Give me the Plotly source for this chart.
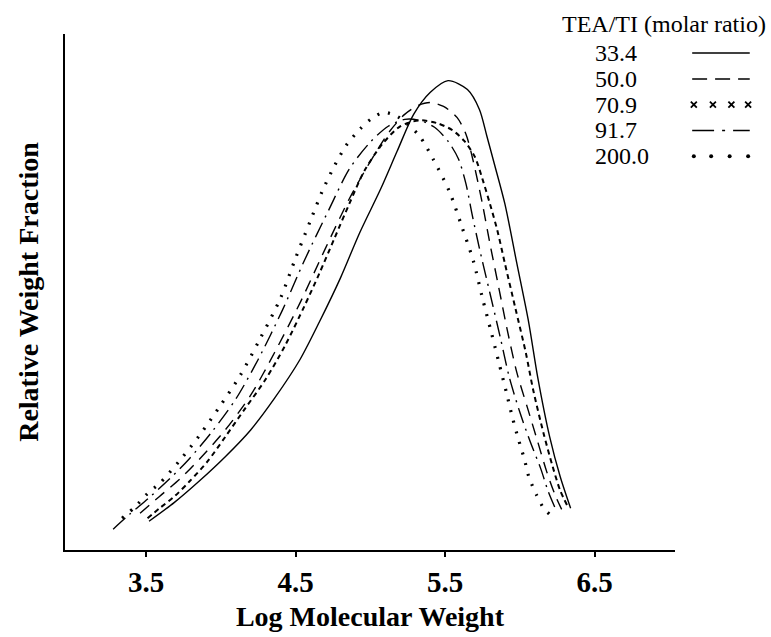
import plotly.graph_objects as go

FONT = "Liberation Serif"

# Legend labels (TEA/TI molar ratio)
ratios = ["33.4", "50.0", "70.9", "91.7", "200.0"]

# Log molecular weight (x) and relative weight fraction (y, arbitrary units)
x_334 = [3.52, 3.69, 3.86, 4.03, 4.20, 4.36, 4.53, 4.66, 4.80, 4.93, 5.07, 5.18, 5.29,
         5.40, 5.52, 5.65, 5.73, 5.78, 5.83, 5.90, 5.98, 6.06, 6.12, 6.20, 6.27, 6.34]
y_334 = [29, 48, 70, 94, 121, 153, 192, 230, 274, 320, 364, 402, 439,
         461, 473, 464, 444, 417, 389, 349, 289, 229, 174, 114, 74, 42]

x_500 = [3.46, 3.59, 3.73, 3.86, 4.03, 4.20, 4.36, 4.53, 4.70, 4.86, 5.01, 5.13, 5.23, 5.32,
         5.40, 5.49, 5.58, 5.64, 5.69, 5.75, 5.80, 5.86, 5.92, 5.98, 6.05, 6.12, 6.18, 6.24, 6.28]
y_500 = [37, 54, 72, 92, 121, 156, 199, 249, 304, 354, 394, 422, 439, 448,
         451, 447, 436, 419, 391, 349, 309, 264, 219, 179, 144, 109, 79, 54, 41]

x_709 = [3.51, 3.59, 3.69, 3.79, 3.91, 4.03, 4.16, 4.30, 4.43, 4.56, 4.66, 4.76, 4.86, 4.96,
         5.08, 5.20, 5.33, 5.45, 5.55, 5.63, 5.70, 5.75, 5.80, 5.85, 5.90, 5.97, 6.04, 6.09,
         6.16, 6.22, 6.27, 6.32]
y_709 = [32, 42, 54, 69, 89, 114, 142, 172, 206, 246, 279, 314, 349, 382,
         409, 427, 433, 430, 423, 412, 396, 374, 349, 322, 289, 244, 199, 161,
         117, 84, 60, 44]

x_917 = [3.28, 3.39, 3.53, 3.66, 3.79, 3.94, 4.10, 4.25, 4.41, 4.56, 4.72, 4.86, 5.00, 5.12,
         5.23, 5.33, 5.43, 5.52, 5.59, 5.64, 5.68, 5.73, 5.80, 5.87, 5.93, 6.00, 6.07, 6.14,
         6.19, 6.24]
y_917 = [21, 36, 54, 72, 92, 119, 152, 192, 241, 292, 342, 384, 411, 427,
         434, 433, 426, 412, 394, 369, 339, 304, 259, 214, 174, 139, 109, 82,
         59, 41]

x_2000 = [3.34, 3.43, 3.51, 3.59, 3.73, 3.86, 3.99, 4.13, 4.26, 4.40, 4.50, 4.60, 4.68, 4.76,
          4.84, 4.93, 5.01, 5.09, 5.18, 5.25, 5.33, 5.42, 5.53, 5.61, 5.69, 5.75, 5.81,
          5.86, 5.91, 5.95, 5.99, 6.03, 6.06, 6.11, 6.16, 6.20]
y_2000 = [32, 44, 57, 67, 91, 116, 144, 176, 212, 254, 294, 332, 362, 387,
          408, 424, 435, 441, 437, 429, 417, 394, 361, 327, 291, 254, 219,
          189, 159, 134, 112, 92, 74, 56, 42, 36]

tick_vals = [3.5, 4.5, 5.5, 6.5]
tick_text = ["3.5", "4.5", "5.5", "6.5"]

styles = {
    "33.4": dict(dash="solid", width=1.4),
    "50.0": dict(dash="12px,8px", width=1.4),
    "70.9": dict(dash="5px,4px", width=2.0),
    "91.7": dict(dash="16px,6px,2px,6px", width=1.4),
    "200.0": dict(dash="2px,9px", width=3.2),
}
data = {"33.4": (x_334, y_334), "50.0": (x_500, y_500), "70.9": (x_709, y_709),
        "91.7": (x_917, y_917), "200.0": (x_2000, y_2000)}

fig = go.Figure()
for r in ratios:
    xs, ys = data[r]
    st = styles[r]
    fig.add_trace(go.Scatter(
        x=xs, y=ys, mode="lines", name=r, showlegend=False,
        line=dict(color="black", width=st["width"], dash=st["dash"],
                  shape="spline", smoothing=0.8)))

# Legend samples drawn on a small hidden axis at the top right
for i, r in enumerate(ratios):
    if r == "70.9":
        fig.add_trace(go.Scatter(x=[0.03, 0.36, 0.68, 0.97], y=[i] * 4, xaxis="x2", yaxis="y2",
                                 mode="markers", showlegend=False, cliponaxis=False,
                                 marker=dict(symbol="x-thin", size=6, color="black",
                                             line=dict(width=1.8, color="black"))))
    elif r == "200.0":
        fig.add_trace(go.Scatter(x=[0.03, 0.33, 0.65, 0.97], y=[i] * 4, xaxis="x2", yaxis="y2",
                                 mode="markers", showlegend=False, cliponaxis=False,
                                 marker=dict(symbol="circle", size=4, color="black")))
    else:
        dash = {"33.4": "solid", "50.0": "15px,8px", "91.7": "22px,8px,3px,8px"}[r]
        fig.add_trace(go.Scatter(x=[0, 1], y=[i, i], xaxis="x2", yaxis="y2", mode="lines",
                                 showlegend=False, cliponaxis=False,
                                 line=dict(color="black", width=1.5, dash=dash)))
    fig.add_annotation(text=r, xref="paper", yref="y2", x=0.7586, y=i, xanchor="left",
                       yanchor="middle", showarrow=False,
                       font=dict(family=FONT, size=24, color="black"))

fig.add_annotation(text="TEA/TI (molar ratio)", xref="paper", yref="paper", x=0.711, y=1.019,
                   xanchor="left", yanchor="middle", showarrow=False,
                   font=dict(family=FONT, size=24, color="black"))

fig.update_layout(
    width=771, height=637,
    margin=dict(l=65, r=10, t=34, b=83),
    paper_bgcolor="white", plot_bgcolor="white",
    font=dict(family=FONT, color="black"),
    xaxis=dict(domain=[0, 0.8764], range=[2.958, 7.038], showline=True, linecolor="black",
               linewidth=2, ticks="outside", ticklen=5, tickwidth=1.5, tickcolor="black",
               tickvals=tick_vals, ticktext=tick_text, showgrid=False, zeroline=False,
               tickfont=dict(family=FONT, size=29, weight="bold"),
               title=dict(text="Log Molecular Weight", standoff=10,
                          font=dict(family=FONT, size=28, weight="bold"))),
    yaxis=dict(domain=[0, 1], range=[0, 520], showline=True, linecolor="black", linewidth=2,
               ticks="", showticklabels=False, showgrid=False, zeroline=False,
               title=dict(text="Relative Weight Fraction", standoff=16,
                          font=dict(family=FONT, size=28, weight="bold"))),
    xaxis2=dict(domain=[0.901, 0.984], range=[0, 1], anchor="y2", visible=False),
    yaxis2=dict(domain=[0.738, 0.988], range=[4.5, -0.5], anchor="x2", visible=False),
)

fig.write_html("out.html")
